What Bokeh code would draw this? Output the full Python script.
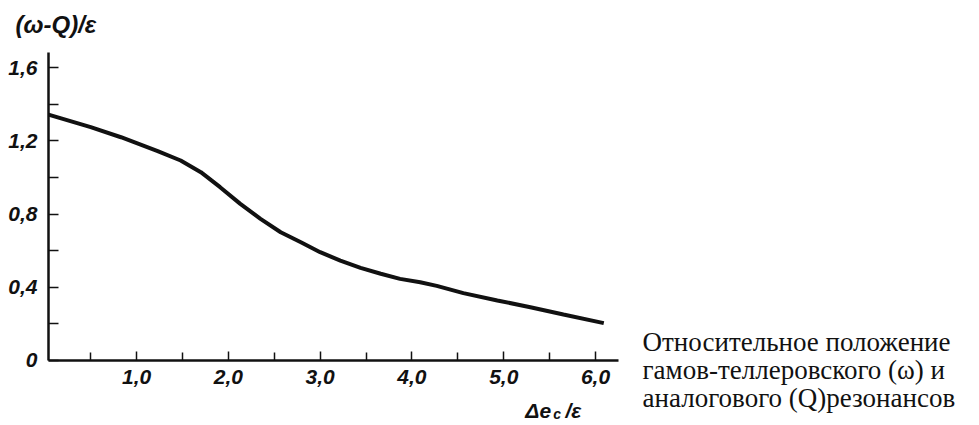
from bokeh.plotting import figure
from bokeh.models import FixedTicker, Label, Range1d, LinearAxis
from bokeh.embed import file_html
from bokeh.resources import INLINE

# ---- data ----
x_vals = [0.04, 0.50, 0.83, 1.23, 1.48, 1.70, 1.91, 2.13, 2.35, 2.57, 2.79,
          3.00, 3.22, 3.44, 3.66, 3.87, 4.09, 4.27, 4.56, 4.93, 5.29, 5.65, 6.09]
y_vals = [1.344, 1.275, 1.22, 1.144, 1.093, 1.029, 0.947, 0.856, 0.774, 0.701,
          0.646, 0.592, 0.546, 0.506, 0.474, 0.446, 0.428, 0.408, 0.368, 0.328,
          0.291, 0.251, 0.204]

x_major = [1.0, 2.0, 3.0, 4.0, 5.0, 6.0]
x_labels = ["1,0", "2,0", "3,0", "4,0", "5,0", "6,0"]
x_minor = [0.5, 1.5, 2.5, 3.5, 4.5, 5.5]
x_axis_span = (0.04, 6.25)

y_major = [0.0, 0.4, 0.8, 1.2, 1.6]
y_labels = ["0", "0,4", "0,8", "1,2", "1,6"]
y_minor = [0.2, 0.6, 1.0, 1.4]
y_axis_span = (0.0, 1.683)

y_title = "(ω-Q)/ε"
x_title_main = "Δe"
x_title_sub = "c"
x_title_tail = "/ε"
caption = ["Относительное положение",
           "гамов-теллеровского (ω) и",
           "аналогового (Q)резонансов"]

TICK_FONT = "Liberation Sans"
INK = "#111111"

# whole canvas is the frame; axes are pinned inside it
p = figure(width=979, height=425, output_backend="svg", toolbar_location=None,
           x_range=Range1d(-0.4826, 10.183), y_range=Range1d(-0.3552, 1.9672),
           x_axis_location=None, y_axis_location=None,
           min_border=0, min_border_left=0, min_border_right=0,
           min_border_top=0, min_border_bottom=0)
p.outline_line_color = None
p.xgrid.visible = False
p.ygrid.visible = False
p.background_fill_color = "white"
p.border_fill_color = "white"

p.line(x_vals, y_vals, line_width=4, line_color=INK)

# x axis
xa = LinearAxis(fixed_location=0.0, bounds=x_axis_span)
xa.ticker = FixedTicker(ticks=x_major, minor_ticks=x_minor)
xa.major_label_overrides = {v: s for v, s in zip(x_major, x_labels)}
xa.axis_line_width = 2.5
xa.axis_line_color = INK
xa.major_tick_in = 9
xa.major_tick_out = 0
xa.minor_tick_in = 8
xa.minor_tick_out = 0
xa.major_tick_line_width = 1.5
xa.minor_tick_line_width = 1.5
xa.major_tick_line_color = INK
xa.minor_tick_line_color = INK
xa.major_label_standoff = 10
xa.major_label_text_font = TICK_FONT
xa.major_label_text_font_style = "bold italic"
xa.major_label_text_font_size = "21px"
xa.major_label_text_color = INK
p.add_layout(xa, "below")

# y axis
ya = LinearAxis(fixed_location=x_axis_span[0], bounds=y_axis_span)
ya.ticker = FixedTicker(ticks=y_major, minor_ticks=y_minor)
ya.major_label_overrides = {v: s for v, s in zip(y_major, y_labels)}
ya.axis_line_width = 2.5
ya.axis_line_color = INK
ya.major_tick_in = 10
ya.major_tick_out = 0
ya.minor_tick_in = 10
ya.minor_tick_out = 0
ya.major_tick_line_width = 1.5
ya.minor_tick_line_width = 1.5
ya.major_tick_line_color = INK
ya.minor_tick_line_color = INK
ya.major_label_standoff = 11
ya.major_label_text_font = TICK_FONT
ya.major_label_text_font_style = "bold italic"
ya.major_label_text_font_size = "21px"
ya.major_label_text_color = INK
p.add_layout(ya, "left")

# axis titles
p.add_layout(Label(x=-0.319, y=1.836, text=y_title, text_font=TICK_FONT,
                   text_font_style="bold italic", text_font_size="24px",
                   text_color=INK, text_baseline="alphabetic"))
p.add_layout(Label(x=5.235, y=-0.275, text=x_title_main, text_font=TICK_FONT,
                   text_font_style="bold italic", text_font_size="21px",
                   text_color=INK, text_baseline="alphabetic"))
p.add_layout(Label(x=5.54, y=-0.292, text=x_title_sub, text_font=TICK_FONT,
                   text_font_style="bold italic", text_font_size="14px",
                   text_color=INK, text_baseline="alphabetic"))
p.add_layout(Label(x=5.673, y=-0.275, text=x_title_tail, text_font=TICK_FONT,
                   text_font_style="bold italic", text_font_size="21px",
                   text_color=INK, text_baseline="alphabetic"))

# caption
cap_y = [0.099, -0.054, -0.207]
for txt, yy in zip(caption, cap_y):
    p.add_layout(Label(x=6.512, y=yy, text=txt, text_font="Liberation Serif",
                       text_font_size="27px", text_color=INK,
                       text_baseline="alphabetic"))

open("out.html", "w").write(file_html(p, INLINE))
